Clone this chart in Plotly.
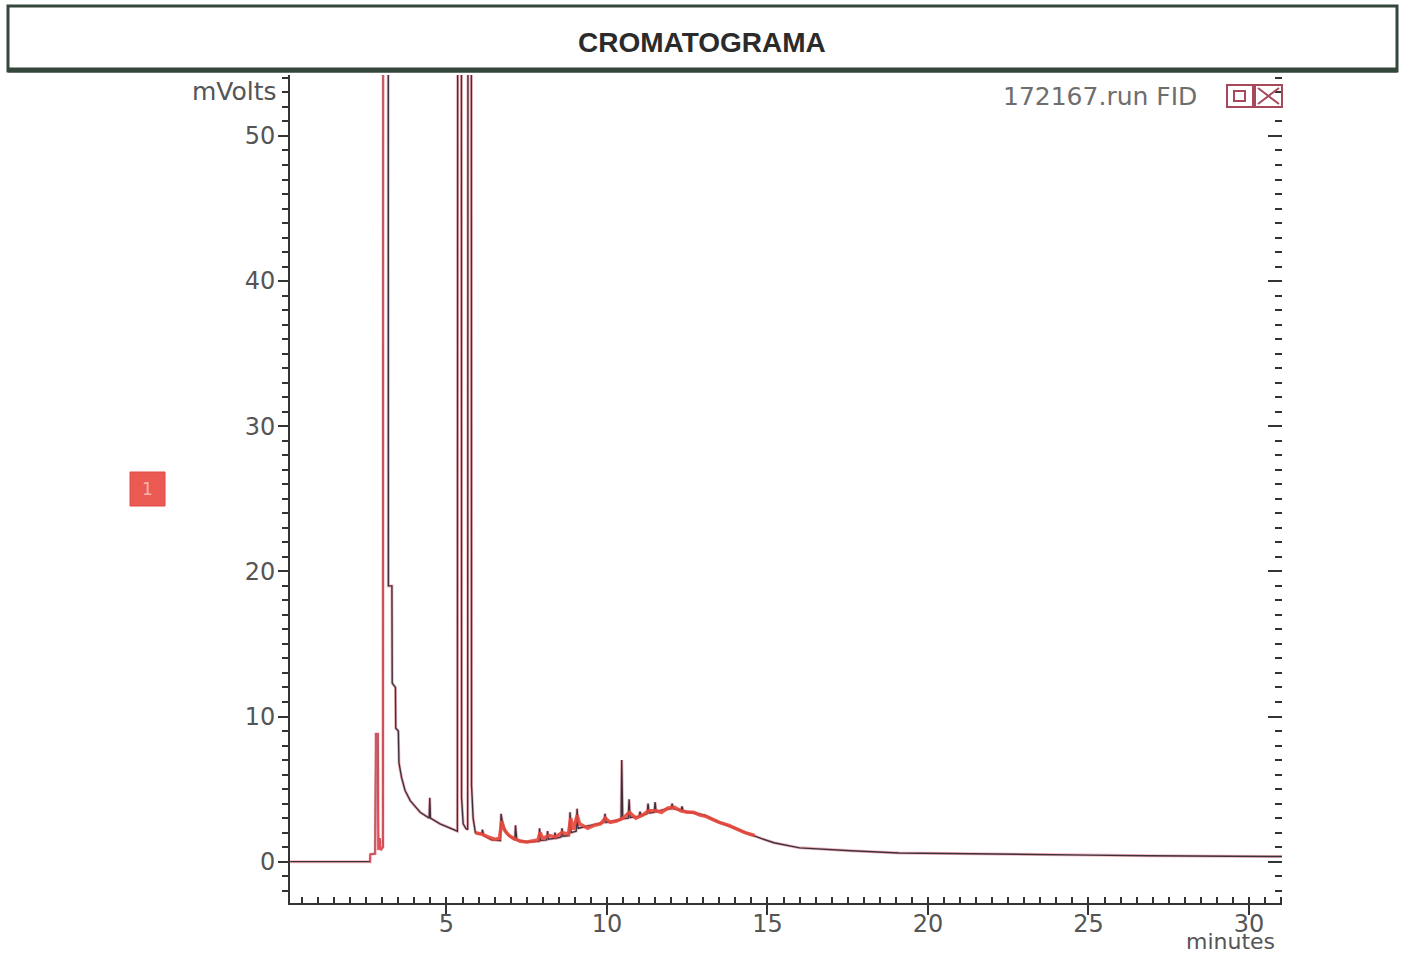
import plotly.graph_objects as go

# ---------------- data ----------------
# full detector signal (dark trace): time [min], signal [mV]
time_min = [
    0.13, 2.62, 2.63, 2.78, 2.80, 2.86, 2.88, 2.92, 2.95, 3.02, 3.04, 3.18, 3.19,
    3.30, 3.31, 3.41, 3.42, 3.50, 3.52, 3.60, 3.71, 3.87, 4.18, 4.40, 4.46, 4.48,
    4.50, 4.80, 5.10, 5.34, 5.36, 5.46, 5.47, 5.52, 5.60, 5.66, 5.68, 5.77, 5.78,
    5.83, 5.90, 6.00, 6.10, 6.12, 6.16, 6.40, 6.68, 6.70, 6.75, 6.85, 7.00, 7.13,
    7.15, 7.19, 7.50, 7.80, 7.88, 7.90, 7.93, 8.12, 8.15, 8.18, 8.36, 8.38, 8.41,
    8.57, 8.60, 8.63, 8.82, 8.85, 8.88, 9.04, 9.07, 9.10, 9.50, 9.90, 9.94, 9.97,
    10.20, 10.44, 10.46, 10.49, 10.66, 10.69, 10.72, 11.00, 11.03, 11.06, 11.25,
    11.28, 11.31, 11.47, 11.50, 11.53, 11.80, 12.00, 12.03, 12.06, 12.31, 12.34,
    12.37, 12.60, 13.05, 13.50, 14.00, 14.50, 14.80, 15.20, 16.00, 17.00, 17.60,
    19.10, 20.00, 21.30, 23.80, 25.00, 26.90, 29.00, 31.03,
]
signal_mv = [
    0.0, 0.0, 0.5, 0.55, 8.8, 8.8, 0.8, 1.6, 0.8, 1.0, 120.0, 120.0, 19.0,
    19.0, 12.3, 12.0, 9.2, 9.0, 6.8, 5.8, 4.9, 4.2, 3.4, 3.05, 3.0, 4.4,
    3.0, 2.6, 2.3, 2.1, 120.0, 120.0, 4.4, 2.6, 2.3, 2.2, 120.0, 120.0, 5.3,
    3.0, 2.0, 1.9, 1.9, 2.2, 1.8, 1.5, 1.45, 3.3, 2.6, 2.0, 1.7, 1.5,
    2.5, 1.5, 1.35, 1.4, 1.4, 2.3, 1.45, 1.5, 2.1, 1.55, 1.6, 2.0, 1.6,
    1.7, 2.3, 1.75, 1.8, 3.4, 2.0, 2.1, 3.65, 2.3, 2.5, 2.7, 3.3, 2.7,
    2.8, 2.9, 7.0, 2.95, 3.0, 4.3, 3.05, 3.1, 3.45, 3.15, 3.3,
    4.0, 3.35, 3.4, 4.1, 3.45, 3.6, 3.65, 4.0, 3.65, 3.55, 3.8,
    3.5, 3.4, 3.2, 2.7, 2.3, 1.85, 1.6, 1.3, 0.95, 0.8, 0.75,
    0.6, 0.57, 0.55, 0.48, 0.45, 0.41, 0.38, 0.35,
]

# red overlay near injection
red_early_time = [2.60, 2.62, 2.63, 2.78, 2.80, 2.86, 2.88, 2.92, 2.95, 3.02, 3.04, 3.06]
red_early_mv = [0.0, 0.0, 0.5, 0.55, 8.8, 8.8, 0.8, 1.6, 0.8, 1.0, 120.0, 120.0]

# red overlay over the noisy hump
red_hump_time = [
    5.90, 6.10, 6.30, 6.50, 6.65, 6.72, 6.80, 6.95, 7.10, 7.30, 7.50, 7.70, 7.85,
    7.92, 8.00, 8.20, 8.40, 8.60, 8.80, 8.87, 8.95, 9.07, 9.15, 9.40, 9.60, 9.80,
    9.95, 10.10, 10.30, 10.50, 10.70, 10.90, 11.10, 11.30, 11.50, 11.70, 11.90,
    12.10, 12.30, 12.50, 12.70, 12.90, 13.10, 13.30, 13.50, 13.80, 14.00, 14.30,
    14.60,
]
red_hump_mv = [
    2.0, 1.9, 1.7, 1.55, 1.6, 2.8, 2.2, 1.8, 1.6, 1.4, 1.35, 1.45, 1.5,
    2.0, 1.6, 1.8, 1.7, 2.0, 1.9, 3.0, 2.2, 3.2, 2.6, 2.3, 2.5, 2.6,
    3.0, 2.7, 2.8, 3.0, 3.4, 3.0, 3.2, 3.5, 3.5, 3.4, 3.7,
    3.75, 3.5, 3.4, 3.4, 3.2, 3.1, 2.9, 2.7, 2.5, 2.3, 2.0,
    1.8,
]

x_tick_values = [5, 10, 15, 20, 25, 30]
x_tick_labels = ["5", "10", "15", "20", "25", "30"]
y_tick_values = [0, 10, 20, 30, 40, 50]
y_tick_labels = ["0", "10", "20", "30", "40", "50"]

# ---------------- layout helpers (pixel -> paper) ----------------
L, R, T, B = 290, 1282, 75, 903
W, H = R - L, B - T


def px(x):
    return (x - L) / W


def py(y):
    return (B - y) / H


AX = "#333333"
TXT = "#555555"
FONT = "DejaVu Sans, Liberation Sans, Arial, sans-serif"

fig = go.Figure()

fig.add_trace(go.Scatter(
    x=time_min, y=signal_mv, mode="lines",
    line=dict(color="rgba(225,90,100,0.45)", width=3),
    hoverinfo="skip", showlegend=False))
fig.add_trace(go.Scatter(
    x=time_min, y=signal_mv, mode="lines",
    line=dict(color="#3d3140", width=1.4),
    showlegend=False, name="172167.run FID"))
fig.add_trace(go.Scatter(
    x=red_early_time, y=red_early_mv, mode="lines",
    line=dict(color="#e2505a", width=1.6),
    hoverinfo="skip", showlegend=False))
fig.add_trace(go.Scatter(
    x=red_hump_time, y=red_hump_mv, mode="lines",
    line=dict(color="#e8483c", width=3.5),
    opacity=0.9, hoverinfo="skip", showlegend=False))
# carrier trace for the right-hand tick axis
fig.add_trace(go.Scatter(
    x=[time_min[-1]], y=[signal_mv[-1]], mode="lines", yaxis="y2",
    line=dict(color="rgba(0,0,0,0)"), hoverinfo="skip", showlegend=False))

yr = [-2.85, 54.2]

fig.update_layout(
    width=1404, height=957,
    margin=dict(l=L, r=1404 - R, t=T, b=957 - B),
    paper_bgcolor="white", plot_bgcolor="white",
    font=dict(family=FONT, color=TXT, size=24),
    xaxis=dict(
        range=[0.125, 31.03], showgrid=False, zeroline=False,
        showline=True, linecolor=AX, linewidth=2,
        tickmode="array", tickvals=x_tick_values, ticktext=x_tick_labels,
        ticks="outside", ticklen=10, tickwidth=2, tickcolor=AX,
        ticklabelstandoff=-12,
        minor=dict(tick0=0, dtick=0.5, ticks="inside", ticklen=6,
                   tickwidth=2, tickcolor=AX, showgrid=False),
        tickfont=dict(size=24, color=TXT), fixedrange=True,
    ),
    yaxis=dict(
        range=yr, showgrid=False, zeroline=False,
        showline=True, linecolor=AX, linewidth=2,
        tickmode="array", tickvals=y_tick_values, ticktext=y_tick_labels,
        ticks="outside", ticklen=10, tickwidth=2, tickcolor=AX,
        ticklabelstandoff=-2,
        minor=dict(tick0=0, dtick=1, ticks="outside", ticklen=6,
                   tickwidth=2, tickcolor=AX, showgrid=False),
        tickfont=dict(size=24, color=TXT), fixedrange=True,
    ),
    yaxis2=dict(
        range=yr, overlaying="y", side="right", showgrid=False,
        zeroline=False, showline=False, showticklabels=False,
        tickmode="array", tickvals=y_tick_values,
        ticks="inside", ticklen=14, tickwidth=2, tickcolor=AX,
        minor=dict(tick0=0, dtick=1, ticks="inside", ticklen=7,
                   tickwidth=2, tickcolor=AX, showgrid=False),
        fixedrange=True,
    ),
)

shapes = []
# title box
shapes.append(dict(type="rect", xref="paper", yref="paper",
                   x0=px(8), x1=px(1397), y0=py(71), y1=py(6),
                   line=dict(color="#34473b", width=3), fillcolor="white",
                   layer="above"))
shapes.append(dict(type="line", xref="paper", yref="paper",
                   x0=px(8), x1=px(1397), y0=py(70), y1=py(70),
                   line=dict(color="#34473b", width=5)))
# window icons
ic = "#a8485c"
shapes.append(dict(type="rect", xref="paper", yref="paper",
                   x0=px(1227), x1=px(1253), y0=py(107), y1=py(85),
                   line=dict(color=ic, width=2)))
shapes.append(dict(type="rect", xref="paper", yref="paper",
                   x0=px(1234), x1=px(1245), y0=py(101), y1=py(91),
                   line=dict(color=ic, width=2)))
shapes.append(dict(type="rect", xref="paper", yref="paper",
                   x0=px(1255), x1=px(1282), y0=py(107), y1=py(85),
                   line=dict(color=ic, width=2)))
shapes.append(dict(type="line", xref="paper", yref="paper",
                   x0=px(1258), x1=px(1279), y0=py(88), y1=py(104),
                   line=dict(color=ic, width=2)))
shapes.append(dict(type="line", xref="paper", yref="paper",
                   x0=px(1258), x1=px(1279), y0=py(104), y1=py(88),
                   line=dict(color=ic, width=2)))
# red marker box
shapes.append(dict(type="rect", xref="paper", yref="paper",
                   x0=px(130), x1=px(165), y0=py(506), y1=py(472),
                   line=dict(color="#e24a45", width=1), fillcolor="#ea5a52"))
fig.update_layout(shapes=shapes)

ann = [
    dict(text="<b>CROMATOGRAMA</b>", x=px(702), y=py(42), xref="paper",
         yref="paper", showarrow=False, xanchor="center", yanchor="middle",
         font=dict(family="Liberation Sans, Arial, sans-serif",
                   size=28, color="#2b2b2b")),
    dict(text="mVolts", x=px(279), y=py(92), xref="paper", yref="paper",
         showarrow=False, xanchor="right", yanchor="middle",
         font=dict(size=25, color=TXT)),
    dict(text="172167.run FID", x=px(1199), y=py(96), xref="paper",
         yref="paper", showarrow=False, xanchor="right", yanchor="middle",
         font=dict(size=25, color="#6e6e6e")),
    dict(text="minutes", x=px(1277), y=py(956), xref="paper", yref="paper",
         showarrow=False, xanchor="right", yanchor="bottom",
         font=dict(size=22, color=TXT)),
    dict(text="1", x=px(147.5), y=py(489), xref="paper", yref="paper",
         showarrow=False, xanchor="center", yanchor="middle",
         font=dict(size=17, color="#f6b3aa")),
]
fig.update_layout(annotations=ann)

fig.write_html("out.html")
